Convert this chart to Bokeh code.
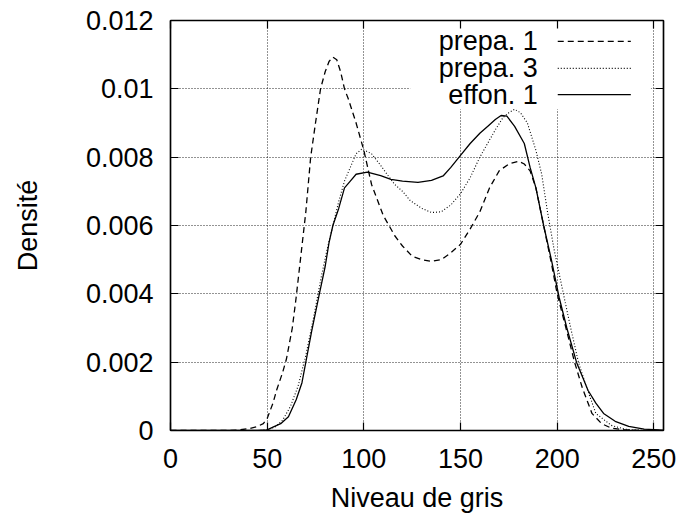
from bokeh.plotting import figure
from bokeh.models import (LinearAxis, FixedTicker, BoxAnnotation, Label, Range1d,
                          CustomJSTickFormatter, CustomLabelingPolicy)
from bokeh.embed import file_html
from bokeh.resources import INLINE

# ---------------- data ----------------
prepa1_x = [0, 30, 36, 41, 45, 48, 50, 53, 55, 58, 60, 63, 65, 68, 70, 72.5, 75, 77.6, 80, 82,
            84, 86, 88, 90, 92, 96, 100, 104, 108, 110, 113, 116, 120, 125, 130, 135, 140, 145,
            150, 155, 160, 165, 167, 170, 175, 180, 183, 186, 189, 193, 197, 200, 205, 209, 213,
            218, 223, 228, 235, 245, 255]
prepa1_y = [0, 0, 0.00002, 0.00006, 0.00012, 0.0002, 0.00035, 0.0008, 0.0012, 0.0017,
            0.0021, 0.0030, 0.0039, 0.0054, 0.0064, 0.0080, 0.0090, 0.0100, 0.0105, 0.0108,
            0.01093, 0.01085, 0.0105, 0.0100, 0.0097, 0.0090, 0.0082, 0.0072, 0.0066, 0.0063,
            0.0060, 0.0057, 0.0054, 0.0051, 0.0050, 0.00495, 0.0050, 0.0052, 0.00545, 0.0059,
            0.0064, 0.0071, 0.0073, 0.0076, 0.0078, 0.00788, 0.0078, 0.0076, 0.0071, 0.0060,
            0.0049, 0.0040, 0.0029, 0.0020, 0.00125, 0.0005, 0.0002, 0.00007, 0.00002, 0, 0]

prepa3_x = [0, 45, 50, 54, 58, 62, 66, 70, 74, 78, 81, 84, 87, 90, 93, 96, 99, 104, 108.7,
            112, 116, 120, 124, 130, 135, 140, 145, 150, 155, 160, 164, 168, 172, 175, 178,
            181, 184.6, 189, 192, 195, 198.4, 203.6, 207, 211, 215, 220, 228, 235, 242, 255]
prepa3_y = [0, 0, 0.00002, 0.0001, 0.0003, 0.0007, 0.0013, 0.0022, 0.0033, 0.0045, 0.0053,
            0.0060, 0.0067, 0.0073, 0.0077, 0.0081, 0.00824, 0.0081, 0.00776, 0.0075, 0.0072,
            0.0070, 0.00673, 0.0065, 0.00638, 0.0064, 0.0066, 0.00693, 0.0074, 0.0080, 0.0084,
            0.0088, 0.00916, 0.0093, 0.0094, 0.0093, 0.0090, 0.0082, 0.0075, 0.0064, 0.0053,
            0.0039, 0.0030, 0.0020, 0.0013, 0.0005, 0.00015, 0.00004, 0.00001, 0]

effon1_x = [0, 45, 50, 53, 57, 61, 65, 68, 70, 73, 77, 80, 82, 84, 87, 90, 93, 96, 101.8,
            108.7, 114, 120, 128, 135, 141, 145, 150, 155, 160, 164, 168, 171, 174, 178, 183,
            186, 189, 193, 197, 201, 205, 210, 216, 220, 224, 230, 237, 245, 255]
effon1_y = [0, 0, 0.00002, 0.0001, 0.0002, 0.0004, 0.0009, 0.0014, 0.0020, 0.0029, 0.0040,
            0.0048, 0.0055, 0.0060, 0.0065, 0.0071, 0.0073, 0.0075, 0.00756, 0.00746, 0.00735,
            0.0073, 0.00726, 0.00732, 0.00745, 0.0077, 0.00805, 0.0084, 0.0087, 0.0089, 0.0091,
            0.00922, 0.0092, 0.0089, 0.0084, 0.0077, 0.0071, 0.0060, 0.0050, 0.0039, 0.0030,
            0.0020, 0.00117, 0.0008, 0.0005, 0.00027, 0.00012, 0.00004, 0.00001]

series_names = ["prepa. 1", "prepa. 3", "effon. 1"]
series_dash = ["6 4", "1 2", "solid"]

x_ticks = [0, 50, 100, 150, 200, 250]
y_ticks = [0, 0.002, 0.004, 0.006, 0.008, 0.01, 0.012]
y_tick_labels = ["0", "0.002", "0.004", "0.006", "0.008", "0.01", "0.012"]

FONT = "Liberation Sans"
FS = "27px"

p = figure(frame_width=493, frame_height=410,
           x_range=Range1d(0, 255), y_range=Range1d(0, 0.012),
           output_backend="svg", toolbar_location=None,
           min_border_left=170, min_border_right=15, min_border_top=20,
           min_border_bottom=86,
           x_axis_label="Niveau de gris", y_axis_label="Densité")
p.outline_line_color = "black"
p.outline_line_width = 1.2
p.background_fill_color = "white"
p.border_fill_color = "white"

p.xaxis.ticker = FixedTicker(ticks=x_ticks)
p.yaxis.ticker = FixedTicker(ticks=y_ticks)
p.yaxis.formatter = CustomJSTickFormatter(
    args=dict(tv=y_ticks, tl=y_tick_labels),
    code="for (let i = 0; i < tv.length; i++) { if (Math.abs(tv[i] - tick) < 1e-9) return tl[i]; } return '';")

for ax in list(p.xaxis) + list(p.yaxis):
    ax.major_label_text_font = FONT
    ax.major_label_text_font_size = FS
    ax.major_label_text_color = "black"
    ax.axis_label_text_font = FONT
    ax.axis_label_text_font_size = FS
    ax.axis_label_text_font_style = "normal"
    ax.axis_label_text_color = "black"
    ax.major_tick_in = 8
    ax.major_tick_out = 0
    ax.minor_tick_in = 0
    ax.minor_tick_out = 0
    ax.axis_line_color = "black"
    ax.axis_line_width = 1.5
    ax.major_tick_line_color = "black"
    ax.major_tick_line_width = 1.2

p.xaxis.major_label_standoff = 18
p.xaxis.axis_label_standoff = 12
p.yaxis.major_label_standoff = 17
p.yaxis.axis_label_standoff = 40

# mirrored ticks on top and right (labels hidden)
hide_all = CustomLabelingPolicy(code="for (const i of indices) { indices.unset(i) } return indices")
for loc, tk in (("above", x_ticks), ("right", y_ticks)):
    ax = LinearAxis(ticker=FixedTicker(ticks=tk), major_label_text_font_size="1px",
                    major_label_policy=hide_all,
                    major_tick_in=8, major_tick_out=0, minor_tick_in=0, minor_tick_out=0,
                    major_label_standoff=0, axis_line_color="black", axis_line_width=1.5,
                    major_tick_line_color="black", major_tick_line_width=1.2)
    p.add_layout(ax, loc)

for g, tk in ((p.xgrid, x_ticks), (p.ygrid, y_ticks)):
    g.ticker = FixedTicker(ticks=tk)
    g.grid_line_color = "black"
    g.grid_line_dash = "1 2"
    g.grid_line_alpha = 0.85
    g.grid_line_width = 1

# legend background (white box masking grid)
p.add_layout(BoxAnnotation(left=124, right=248.5, bottom=0.0094, top=0.01185,
                           fill_color="white", fill_alpha=1, line_color=None,
                           level="underlay"))

xs = [prepa1_x, prepa3_x, effon1_x]
ys = [prepa1_y, prepa3_y, effon1_y]
for x, y, d in zip(xs, ys, series_dash):
    p.line(x, y, line_color="black", line_width=1.3 if d != "1 2" else 1.1, line_dash=d)

# custom legend: label right-aligned, sample to its right
legend_y = [0.01139, 0.01060, 0.00983]
for name, d, ly in zip(series_names, series_dash, legend_y):
    p.add_layout(Label(x=190, y=ly, text=name, text_align="right", text_baseline="middle",
                       text_font=FONT, text_font_size=FS, text_color="black"))
    p.line([200.3, 238.1], [ly, ly], line_color="black",
           line_width=1.3 if d != "1 2" else 1.1, line_dash=d)

open("out.html", "w").write(file_html(p, INLINE))
